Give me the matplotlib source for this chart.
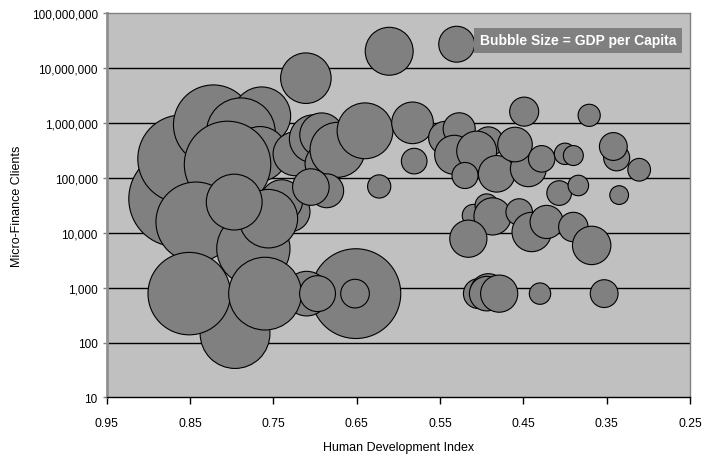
import numpy as np
import matplotlib
matplotlib.use('Agg')
import matplotlib.pyplot as plt
from matplotlib.ticker import FuncFormatter, NullLocator

plt.rcParams['font.family'] = ['Liberation Sans Narrow', 'Liberation Sans', 'DejaVu Sans']

# Data (drawing order kept so overlaps look the same)
hdi = [0.866, 0.860, 0.822, 0.764, 0.789, 0.766, 0.805, 0.843, 0.796, 0.774,
       0.730, 0.740, 0.756, 0.797, 0.724, 0.702, 0.692, 0.688, 0.673, 0.686,
       0.705, 0.711, 0.611, 0.530, 0.651, 0.652, 0.710, 0.851, 0.760, 0.697,
       0.640, 0.583, 0.581, 0.623, 0.449, 0.371, 0.544, 0.527, 0.533, 0.492,
       0.506, 0.520, 0.482, 0.444, 0.460, 0.428, 0.400, 0.390, 0.338, 0.342,
       0.311, 0.407, 0.384, 0.335, 0.510, 0.494, 0.487, 0.516, 0.455, 0.440,
       0.422, 0.390, 0.368, 0.504, 0.492, 0.494, 0.479, 0.430, 0.353]

clients = [41500, 221000, 920000, 1340000, 672000, 273000, 175000, 15700, 146, 5120,
           24100, 38200, 18000, 36100, 273000, 512000, 605000, 180000, 323000, 58000,
           67800, 6500000, 20100000, 27000000, 778, 778, 778, 778, 778, 778,
           716000, 1000000, 201000, 69500, 1600000, 1370000, 534000, 778000, 262000, 452000,
           306000, 110000, 118000, 146000, 403000, 221000, 273000, 254000, 231000, 371000,
           140000, 52700, 72400, 48400, 20600, 31300, 19800, 7780, 23800, 10300,
           15700, 12700, 5870, 778, 846, 778, 778, 778, 778]

gdp_per_capita = [39200, 32900, 27200, 14300, 20200, 12700, 31900, 27200, 20800, 22900,
                  6800, 7500, 14600, 13300, 8200, 9800, 8200, 6800, 12900, 4900,
                  5700, 10900, 9800, 5500, 34400, 3500, 8500, 29000, 22600, 5500,
                  13300, 7400, 2800, 2300, 3600, 2100, 4600, 4400, 6500, 3800,
                  6800, 2900, 5700, 5500, 5100, 3000, 1950, 1700, 2900, 3300,
                  2200, 2600, 1800, 1500, 2100, 2300, 5900, 5900, 3000, 6600,
                  4700, 3700, 6300, 3800, 5500, 5100, 5900, 1950, 3300]

x_ticks = [0.95, 0.85, 0.75, 0.65, 0.55, 0.45, 0.35, 0.25]
y_ticks = [10, 100, 1000, 10000, 100000, 1000000, 10000000, 100000000]

fig = plt.figure(figsize=(7.03, 4.6), dpi=100)
ax = fig.add_axes([0.1518, 0.1337, 0.8297, 0.8359])
ax.set_facecolor('#C0C0C0')

# bubble area proportional to GDP per capita
gdp = np.array(gdp_per_capita, dtype=float)
max_diam = 69.0  # points, diameter of largest bubble
sizes = gdp / gdp.max() * max_diam ** 2

ax.scatter(hdi, clients, s=sizes, c='#808080', edgecolors='black',
           linewidths=0.8, zorder=3)

# axes setup
ax.set_yscale('log')
ax.set_ylim(10, 1e8)
ax.set_xlim(0.95, 0.25)
ax.set_xticks(x_ticks)
ax.set_xticklabels([f'{t:.2f}' for t in x_ticks])
ax.set_yticks(y_ticks)
ax.yaxis.set_minor_locator(NullLocator())
ax.yaxis.set_major_formatter(FuncFormatter(lambda v, p: f'{int(round(v)):,}'))

for y in y_ticks[1:-1]:
    ax.axhline(y, color='black', linewidth=1.0, zorder=1)

for side in ['top', 'right']:
    ax.spines[side].set_color('#808080')
    ax.spines[side].set_linewidth(1.0)
ax.spines['left'].set_color('#909090')
ax.spines['left'].set_linewidth(2.0)
ax.spines['bottom'].set_color('black')
ax.spines['bottom'].set_linewidth(1.0)

ax.tick_params(axis='x', direction='out', length=5, width=1, colors='black', labelsize=8.8, pad=9)
ax.tick_params(axis='y', direction='out', length=3, width=1, color='#808080', labelcolor='black', labelsize=8.5)

ax.set_xlabel('Human Development Index', fontsize=9, labelpad=9)
ax.set_ylabel('Micro-Finance Clients', fontsize=9, labelpad=6)

# size note box
ax.text(0.976, 0.929, 'Bubble Size = GDP per Capita', transform=ax.transAxes,
        ha='right', va='center', fontsize=10, fontweight='bold', color='white', zorder=5,
        bbox=dict(boxstyle='square,pad=0.4', facecolor='#808080', edgecolor='none'))

fig.savefig('out.png', dpi=100)
